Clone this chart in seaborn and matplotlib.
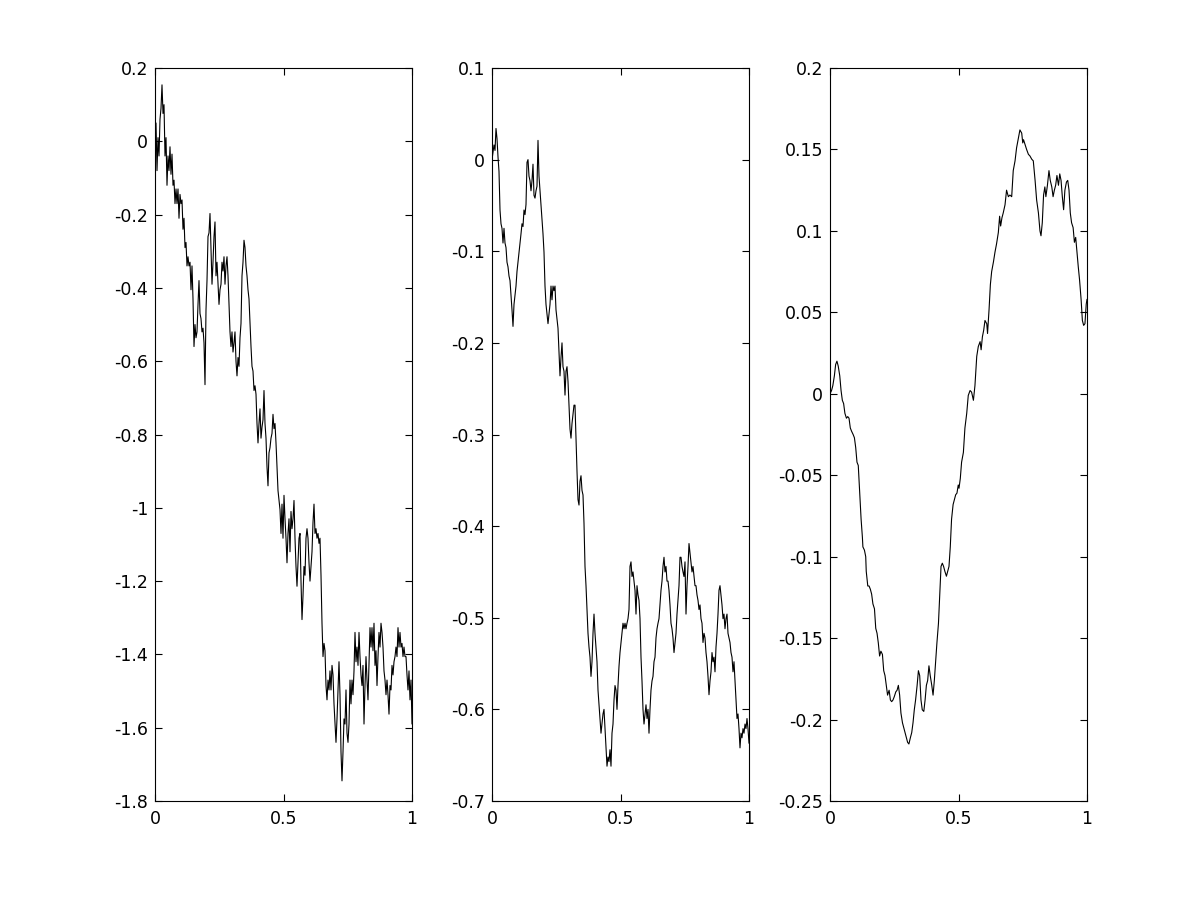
import numpy as np
import seaborn as sb
import matplotlib.pyplot as plt
from matplotlib.ticker import FuncFormatter

# three rough paths on [0, 1]

path1 = [0.0, 0.05, -0.08, 0.01, -0.04, 0.06, 0.09, 0.154, 0.076, 0.10, -0.04, 0.01, -0.12, -0.04, -0.08,
         -0.015, -0.09, -0.035, -0.12, -0.106, -0.17, -0.13, -0.17, -0.13, -0.21, -0.145, -0.17, -0.16,
         -0.24, -0.21, -0.29, -0.276, -0.34, -0.315, -0.34, -0.33, -0.405, -0.34, -0.43, -0.56, -0.50,
         -0.536, -0.52, -0.445, -0.38, -0.47, -0.484, -0.52, -0.51, -0.55, -0.664, -0.46, -0.38, -0.26,
         -0.25, -0.197, -0.29, -0.39, -0.33, -0.26, -0.22, -0.367, -0.33, -0.39, -0.445, -0.405, -0.39,
         -0.33, -0.354, -0.315, -0.39, -0.34, -0.315, -0.367, -0.445, -0.52, -0.56, -0.52, -0.575, -0.55,
         -0.52, -0.60, -0.64, -0.59, -0.614, -0.536, -0.497, -0.367, -0.33, -0.27, -0.29, -0.34, -0.367,
         -0.405, -0.43, -0.497, -0.56, -0.614, -0.627, -0.68, -0.667, -0.69, -0.77, -0.823, -0.77, -0.73,
         -0.81, -0.78, -0.76, -0.68, -0.77, -0.81, -0.888, -0.94, -0.85, -0.836, -0.81, -0.797, -0.745,
         -0.784, -0.77, -0.823, -0.888, -0.953, -0.98, -1.005, -1.07, -0.99, -1.083, -0.966,
         -1.03, -1.083, -1.15, -1.07, -1.03, -1.12, -1.01, -1.057, -1.03, -0.98, -1.083, -1.16, -1.214,
         -1.15, -1.083, -1.07, -1.2, -1.305, -1.24, -1.16, -1.184, -1.083, -1.057, -1.083, -1.15, -1.2,
         -1.16, -1.12, -1.04, -0.99, -1.07, -1.057, -1.083, -1.07, -1.097, -1.083, -1.184, -1.315, -1.406,
         -1.37, -1.39, -1.485, -1.524, -1.47, -1.497, -1.445, -1.497, -1.43, -1.456, -1.535, -1.59, -1.64,
         -1.576, -1.497, -1.42, -1.51, -1.666, -1.745, -1.666, -1.576, -1.59, -1.497, -1.615, -1.64, -1.59,
         -1.47, -1.535, -1.47, -1.51, -1.445, -1.34, -1.42, -1.38, -1.43, -1.34, -1.406, -1.456, -1.485,
         -1.43, -1.59, -1.485, -1.406, -1.47, -1.524, -1.43, -1.327, -1.38, -1.327, -1.39, -1.315, -1.43,
         -1.39, -1.485, -1.406, -1.34, -1.38, -1.315, -1.34, -1.38, -1.445, -1.47, -1.51, -1.47, -1.51,
         -1.563, -1.485, -1.497, -1.43, -1.456, -1.42, -1.406, -1.38, -1.406, -1.327, -1.38, -1.34, -1.38,
         -1.37, -1.406, -1.38, -1.406, -1.406, -1.456, -1.497, -1.445, -1.524, -1.47, -1.59]

path2 = [0.0, 0.008, 0.016, 0.010, 0.034, 0.023, 0.003, -0.013, -0.055, -0.07, -0.075, -0.091, -0.075,
         -0.091, -0.096, -0.112, -0.117, -0.127, -0.132, -0.148, -0.164, -0.182, -0.158, -0.148, -0.138,
         -0.122, -0.112, -0.101, -0.091, -0.081, -0.07, -0.073, -0.055, -0.06, -0.049, -0.003, 0.0, -0.018,
         -0.023, -0.034, -0.023, -0.005, -0.039, -0.042, -0.034, -0.029, 0.021, -0.018, -0.034, -0.049,
         -0.065, -0.081, -0.101, -0.138, -0.158, -0.169, -0.179, -0.169, -0.158, -0.138, -0.153, -0.138,
         -0.143, -0.138, -0.164, -0.174, -0.184, -0.21, -0.236, -0.216, -0.2, -0.226, -0.231, -0.257,
         -0.231, -0.226, -0.242, -0.268, -0.294, -0.304, -0.288, -0.278, -0.268, -0.268, -0.304, -0.34,
         -0.371, -0.377, -0.351, -0.345, -0.361, -0.366, -0.397, -0.444, -0.465, -0.491, -0.517, -0.532,
         -0.543, -0.564, -0.548, -0.517, -0.496, -0.517, -0.532, -0.548, -0.579, -0.595, -0.61, -0.626,
         -0.616, -0.605, -0.6, -0.621, -0.642, -0.662, -0.652, -0.657, -0.644, -0.662, -0.626, -0.616,
         -0.59, -0.574, -0.579, -0.6, -0.574, -0.553, -0.538,
         -0.527, -0.517, -0.506, -0.512, -0.506, -0.512, -0.506, -0.501, -0.491, -0.444, -0.439, -0.455,
         -0.45, -0.46, -0.47, -0.496, -0.465, -0.475, -0.481, -0.501, -0.543, -0.569, -0.6, -0.616, -0.605,
         -0.595, -0.61, -0.6, -0.626, -0.6, -0.579, -0.569, -0.564, -0.548, -0.543, -0.522, -0.512, -0.506,
         -0.501, -0.486, -0.47, -0.46, -0.444, -0.434, -0.45, -0.444, -0.46, -0.46, -0.47, -0.486, -0.506,
         -0.512, -0.522, -0.538, -0.527, -0.517, -0.496, -0.481, -0.465, -0.434, -0.434, -0.444, -0.45,
         -0.455, -0.439, -0.496, -0.465, -0.444, -0.419, -0.429, -0.439, -0.45, -0.444, -0.455, -0.465,
         -0.465, -0.475, -0.481, -0.491, -0.486, -0.501, -0.506, -0.527, -0.517, -0.522, -0.538, -0.548,
         -0.564, -0.584, -0.569, -0.559, -0.538, -0.548, -0.543, -0.559, -0.532, -0.517, -0.496, -0.47,
         -0.465, -0.475, -0.486, -0.501, -0.496, -0.512, -0.501, -0.496, -0.517, -0.522, -0.527, -0.538,
         -0.543, -0.559, -0.548, -0.569, -0.59, -0.61, -0.605, -0.621, -0.642, -0.626, -0.631, -0.621,
         -0.626, -0.616, -0.621, -0.61, -0.621, -0.637]

path3_x = [0, 0.006, 0.011, 0.017, 0.022, 0.027, 0.032, 0.038, 0.043, 0.048, 0.053, 0.058, 0.064, 0.069,
           0.074, 0.079, 0.084, 0.090, 0.095, 0.100, 0.105, 0.110, 0.115, 0.121, 0.126, 0.128, 0.134,
           0.139, 0.141, 0.147, 0.152, 0.157, 0.162, 0.167, 0.173, 0.178, 0.183, 0.188, 0.193, 0.198,
           0.204, 0.209, 0.214, 0.219, 0.224, 0.230, 0.235, 0.240, 0.245, 0.250, 0.256, 0.261, 0.266,
           0.271, 0.276, 0.282, 0.287, 0.292, 0.297, 0.302, 0.307, 0.313, 0.318, 0.323, 0.328, 0.333,
           0.339, 0.344, 0.349, 0.354, 0.359, 0.365, 0.370, 0.375, 0.380, 0.385, 0.390, 0.396, 0.401,
           0.406, 0.411, 0.416, 0.422, 0.427, 0.432, 0.437, 0.442, 0.447, 0.453, 0.458, 0.463, 0.468,
           0.473, 0.479, 0.484, 0.489, 0.494, 0.499,
           0.502, 0.507, 0.512, 0.519, 0.525, 0.532, 0.538, 0.545, 0.551, 0.558, 0.564, 0.571, 0.577,
           0.584, 0.588, 0.593, 0.598, 0.603, 0.610, 0.613, 0.619, 0.624, 0.629, 0.636, 0.642, 0.648,
           0.655, 0.660, 0.664, 0.669, 0.674, 0.681, 0.687, 0.694, 0.700, 0.707, 0.713, 0.720, 0.726,
           0.733, 0.739, 0.746, 0.750, 0.753, 0.759, 0.765, 0.772, 0.778, 0.785, 0.791, 0.798, 0.804,
           0.811, 0.817, 0.821, 0.826, 0.831, 0.836, 0.840, 0.846, 0.852, 0.857, 0.863, 0.868, 0.873,
           0.878, 0.883, 0.889, 0.894, 0.899, 0.904, 0.909, 0.914, 0.920, 0.925, 0.930, 0.935, 0.940,
           0.946, 0.951, 0.956, 0.961, 0.966, 0.971, 0.977, 0.982, 0.987, 0.992, 0.997, 1.0]

path3_y = [0, 0.002, 0.005, 0.011, 0.018, 0.02, 0.017, 0.011, 0.002, -0.004, -0.006, -0.012, -0.015,
           -0.014, -0.015, -0.021, -0.023, -0.025, -0.027, -0.033, -0.042, -0.044, -0.059, -0.077, -0.088,
           -0.094, -0.096, -0.1, -0.109, -0.118, -0.118, -0.12, -0.123, -0.129, -0.132, -0.144, -0.147,
           -0.153, -0.161, -0.158, -0.16, -0.17, -0.173, -0.179, -0.185, -0.182, -0.188, -0.189, -0.188,
           -0.186, -0.183, -0.182, -0.179, -0.185, -0.196, -0.202, -0.205, -0.208, -0.211, -0.214, -0.215,
           -0.211, -0.208, -0.202, -0.194, -0.188, -0.179, -0.17, -0.173, -0.188, -0.194, -0.195, -0.188,
           -0.179, -0.176, -0.167, -0.173, -0.179, -0.185, -0.176, -0.164, -0.153, -0.141, -0.123, -0.106,
           -0.104, -0.106, -0.109, -0.112, -0.109, -0.106, -0.094, -0.077, -0.068, -0.065, -0.062, -0.061,
           -0.056,
           -0.058, -0.052, -0.042, -0.036, -0.021, -0.012, -0.001, 0.002, 0.001, -0.004, 0.005, 0.023,
           0.029, 0.032, 0.027, 0.035, 0.039, 0.045, 0.043, 0.037, 0.052, 0.067, 0.075, 0.081, 0.087,
           0.092, 0.099, 0.109, 0.103, 0.108, 0.111, 0.116, 0.125, 0.121, 0.122, 0.121, 0.137, 0.143,
           0.151, 0.157, 0.162, 0.16, 0.154, 0.156, 0.153, 0.15, 0.147, 0.146, 0.144, 0.143, 0.131, 0.119,
           0.111, 0.1, 0.097, 0.105, 0.122, 0.127, 0.121, 0.128, 0.137, 0.131, 0.127, 0.121, 0.125, 0.128,
           0.134, 0.128, 0.135, 0.131, 0.121, 0.113, 0.125, 0.13, 0.131, 0.125, 0.111, 0.105, 0.102,
           0.093, 0.096, 0.087, 0.078, 0.07, 0.058, 0.045, 0.042, 0.043, 0.055, 0.058]

# y-axis ranges and tick steps of the three panels
y_limits = [(-1.8, 0.2), (-0.7, 0.1), (-0.25, 0.2)]
y_steps = [0.2, 0.1, 0.05]
x_ticks = [0, 0.5, 1]

sb.set_style("white")
plt.rcParams['font.family'] = ['DejaVu Sans']
plt.rcParams['axes.unicode_minus'] = False

fig = plt.figure(figsize=(12.01, 9.01), dpi=100)
lefts = [155 / 1201, 492 / 1201, 830 / 1201]
series = [(np.linspace(0, 1, len(path1)), path1),
          (np.linspace(0, 1, len(path2)), path2),
          (path3_x, path3_y)]

# matlab style labels: 0.2, 0, -0.2, -1 ...
label_fmt = FuncFormatter(lambda v, pos: f"{round(v, 4) + 0.0:g}")

for i in range(3):
    ax = fig.add_axes([lefts[i], 1 - 801 / 901, 257 / 1201, 733 / 901])
    xs, ys = series[i]
    sb.lineplot(x=xs, y=ys, ax=ax, color="black", linewidth=0.8, sort=False, estimator=None)
    lo, hi = y_limits[i]
    ax.set_xlim(0, 1)
    ax.set_ylim(lo, hi)
    ax.set_xticks(x_ticks)
    ax.set_yticks(np.arange(lo, hi + y_steps[i] / 2, y_steps[i]))
    ax.xaxis.set_major_formatter(label_fmt)
    ax.yaxis.set_major_formatter(label_fmt)
    ax.tick_params(direction="in", length=5, width=0.8, color="black", labelcolor="black",
                   labelsize=12.5, top=True, right=True, bottom=True, left=True)
    ax.tick_params(axis="y", pad=5)
    ax.tick_params(axis="x", pad=6.5)
    for s in ax.spines.values():
        s.set_visible(True)
        s.set_color("black")
        s.set_linewidth(0.8)

fig.savefig("out.png", dpi=100, facecolor="white")
